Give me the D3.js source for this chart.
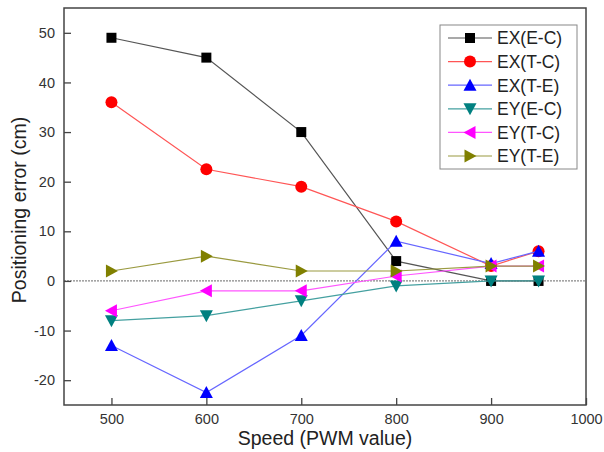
<!DOCTYPE html>
<html>
<head>
<meta charset="utf-8">
<script src="https://cdn.jsdelivr.net/npm/d3@7"></script>
<style>
  body { margin: 0; background: #fff; }
  svg text { font-family: Arial, "Liberation Sans", sans-serif; }
</style>
</head>
<body>
<div id="chart"></div>
<script>
// speeds (PWM) and the six error series
const speeds = [500, 600, 700, 800, 900, 950];
const exEC = [49, 45, 30, 4, 0, 0];
const exTC = [36, 22.5, 19, 12, 3, 6];
const exTE = [-13, -22.5, -11, 8, 3.5, 6];
const eyEC = [-8, -7, -4, -1, 0, 0];
const eyTC = [-6, -2, -2, 1, 3, 3];
const eyTE = [2, 5, 2, 2, 3, 3];
const xTicks = [500, 600, 700, 800, 900, 1000];
const yTicks = [-20, -10, 0, 10, 20, 30, 40, 50];

const series = [
    { name: "EX(E-C)", values: exEC, color: "#000000", line: "#555555", shape: "square" },
    { name: "EX(T-C)", values: exTC, color: "#ff0000", line: "#ff5555", shape: "circle" },
    { name: "EX(T-E)", values: exTE, color: "#0000ff", line: "#6666ff", shape: "up" },
    { name: "EY(E-C)", values: eyEC, color: "#008080", line: "#44a0a0", shape: "down" },
    { name: "EY(T-C)", values: eyTC, color: "#ff00ff", line: "#ff55ff", shape: "left" },
    { name: "EY(T-E)", values: eyTE, color: "#808000", line: "#9a9a40", shape: "right" }
];

const width = 604, height = 452;
const plot = { left: 64, right: 586, top: 8, bottom: 405 };

const svg = d3.select("#chart").append("svg")
    .attr("width", width)
    .attr("height", height);

const x = d3.scaleLinear().domain([450, 1000]).range([plot.left, plot.right]);
const y = d3.scaleLinear().domain([-25, 55]).range([plot.bottom, plot.top]);

// zero reference line
svg.append("line")
    .attr("x1", plot.left).attr("x2", plot.right)
    .attr("y1", y(0)).attr("y2", y(0))
    .attr("stroke", "#888")
    .attr("stroke-width", 1.2)
    .attr("stroke-dasharray", "2,1");

// axes (ticks inward), plain hyphen minus like the original
const plain = d => String(d);
const xAxis = svg.append("g")
    .attr("transform", `translate(0,${plot.bottom})`)
    .call(d3.axisBottom(x).tickValues(xTicks).tickFormat(plain)
        .tickSizeInner(-7).tickSizeOuter(0).tickPadding(9));
const yAxis = svg.append("g")
    .attr("transform", `translate(${plot.left},0)`)
    .call(d3.axisLeft(y).tickValues(yTicks).tickFormat(plain)
        .tickSizeInner(-7).tickSizeOuter(0).tickPadding(9));

[xAxis, yAxis].forEach(g => {
    g.select(".domain").remove();
    g.selectAll(".tick line").attr("stroke", "#444").attr("stroke-width", 1.3);
    g.selectAll(".tick text").attr("fill", "#333").style("font-size", "14.5px");
});

// frame
svg.append("rect")
    .attr("x", plot.left).attr("y", plot.top)
    .attr("width", plot.right - plot.left).attr("height", plot.bottom - plot.top)
    .attr("fill", "none")
    .attr("stroke", "#444")
    .attr("stroke-width", 1.5);

// marker shapes
function markerPath(shape, s) {
    const h = s / 2;
    switch (shape) {
        case "square": return `M${-h},${-h}H${h}V${h}H${-h}Z`;
        case "up": return `M0,${-h - 1}L${h + 1},${h}L${-h - 1},${h}Z`;
        case "down": return `M0,${h + 1}L${h + 1},${-h}L${-h - 1},${-h}Z`;
        case "left": return `M${-h - 1},0L${h},${-h - 1}L${h},${h + 1}Z`;
        case "right": return `M${h + 1},0L${-h},${-h - 1}L${-h},${h + 1}Z`;
    }
}

function drawMarker(g, shape, color, cx, cy) {
    if (shape === "circle") {
        g.append("circle").attr("cx", cx).attr("cy", cy).attr("r", 6).attr("fill", color);
    } else {
        g.append("path")
            .attr("d", markerPath(shape, shape === "square" ? 10 : 11))
            .attr("transform", `translate(${cx},${cy})`)
            .attr("fill", color);
    }
}

const line = d3.line().x(d => x(d[0])).y(d => y(d[1]));

series.forEach(s => {
    const pts = speeds.map((v, i) => [v, s.values[i]]);
    const g = svg.append("g");
    g.append("path")
        .attr("d", line(pts))
        .attr("fill", "none")
        .attr("stroke", s.line)
        .attr("stroke-width", 1.2);
    pts.forEach(p => drawMarker(g, s.shape, s.color, x(p[0]), y(p[1])));
});

// legend
const lg = svg.append("g").attr("transform", "translate(440,25)");
lg.append("rect")
    .attr("width", 137).attr("height", 144)
    .attr("fill", "#fff")
    .attr("stroke", "#888")
    .attr("stroke-width", 1);

series.forEach((s, i) => {
    const cy = 13 + i * 23.6;
    lg.append("line")
        .attr("x1", 8).attr("x2", 52)
        .attr("y1", cy).attr("y2", cy)
        .attr("stroke", s.line)
        .attr("stroke-width", 1.2);
    drawMarker(lg, s.shape, s.color, 30, cy);
    lg.append("text")
        .attr("x", 57).attr("y", cy)
        .attr("dy", "0.36em")
        .attr("fill", "#222")
        .style("font-size", "17.5px")
        .text(s.name);
});

// axis titles
svg.append("text")
    .attr("x", 325)
    .attr("y", 445)
    .attr("text-anchor", "middle")
    .attr("fill", "#222")
    .style("font-size", "19.5px")
    .text("Speed (PWM value)");

svg.append("text")
    .attr("transform", `translate(26,210) rotate(-90)`)
    .attr("text-anchor", "middle")
    .attr("fill", "#222")
    .style("font-size", "19.5px")
    .text("Positioning error (cm)");
</script>
</body>
</html>
